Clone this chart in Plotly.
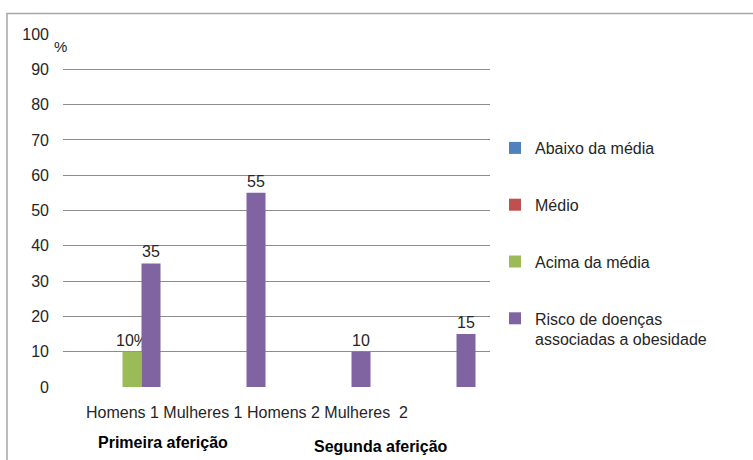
import plotly.graph_objects as go

# Categories and series (percent)
categories = ["Homens 1", "Mulheres 1", "Homens 2", "Mulheres  2"]
series_names = [
    "Abaixo da média",
    "Médio",
    "Acima da média",
    "Risco de doenças<br>associadas a obesidade",
]
abaixo = [None, None, None, None]
medio = [None, None, None, None]
acima = [10, None, None, None]
risco = [35, 55, 10, 15]
colors = ["#4F81BD", "#C0504D", "#9BBB59", "#8064A2"]
label_formats = ["%{y}", "%{y}", "%{y}%", "%{y}"]
y_ticks = [0, 10, 20, 30, 40, 50, 60, 70, 80, 90, 100]
group_labels = ["Primeira aferição", "Segunda aferição"]

W, H = 753, 460
ML, MR, MT, MB = 63, 263, 34, 73
PW, PH = W - ML - MR, H - MT - MB


def px(x):
    return (x - ML) / PW


def py(y):
    return (H - MB - y) / PH


FONT = "Liberation Sans, Arial, sans-serif"
TXT = "#262626"

fig = go.Figure()
for i, (name, vals) in enumerate(zip(series_names, [abaixo, medio, acima, risco])):
    fig.add_trace(go.Bar(
        x=categories,
        y=vals,
        name=name,
        marker=dict(color=colors[i], line=dict(width=0)),
        texttemplate=label_formats[i],
        textposition="outside",
        constraintext="none",
        textfont=dict(family=FONT, size=16, color=TXT),
        cliponaxis=False,
        legendgroup=f"g{i}",
    ))

# category names run together under the plot
fig.add_annotation(
    text=" ".join(categories).replace("  ", "&nbsp; "),
    xref="paper", yref="paper", x=px(247), y=py(412),
    xanchor="center", yanchor="middle",
    showarrow=False, font=dict(family=FONT, size=16, color=TXT),
)
for lbl, cx, cy in zip(group_labels, [163, 381], [442, 446]):
    fig.add_annotation(
        text=f"<b>{lbl}</b>", xref="paper", yref="paper", x=px(cx), y=py(cy),
        xanchor="center", yanchor="middle",
        showarrow=False, font=dict(family=FONT, size=16, color="#000000"),
    )
fig.add_annotation(
    text="%", xref="paper", yref="paper", x=px(60), y=py(46),
    xanchor="center", yanchor="middle",
    showarrow=False, font=dict(family=FONT, size=15, color=TXT),
)

# outer frame (top and left edges visible)
fig.add_shape(
    type="rect", xref="paper", yref="paper",
    x0=px(7), x1=px(770), y0=py(480), y1=py(13.5),
    line=dict(color="#A6A6A6", width=1.5), fillcolor="rgba(0,0,0,0)", layer="below",
)

fig.update_layout(
    width=W, height=H,
    margin=dict(l=ML, r=MR, t=MT, b=MB),
    paper_bgcolor="white", plot_bgcolor="white",
    barmode="group", bargap=0.276, bargroupgap=0,
    font=dict(family=FONT, size=16, color=TXT),
    showlegend=True,
    legend=dict(
        x=px(495), y=py(131), xanchor="left", yanchor="top",
        font=dict(family=FONT, size=16, color=TXT),
        tracegroupgap=33, valign="top",
        bgcolor="rgba(0,0,0,0)",
    ),
    xaxis=dict(
        range=[-0.5 - 7 / 105, 3.5], showticklabels=False, showgrid=False,
        showline=False, zeroline=False, ticks="",
    ),
    yaxis=dict(
        range=[0, 100], tickvals=y_ticks, showgrid=True, gridcolor="#8C8C8C",
        gridwidth=1, zeroline=False, showline=False, ticks="",
        ticklabelstandoff=13, tickfont=dict(family=FONT, size=16, color=TXT),
    ),
)

fig.write_html("out.html")
